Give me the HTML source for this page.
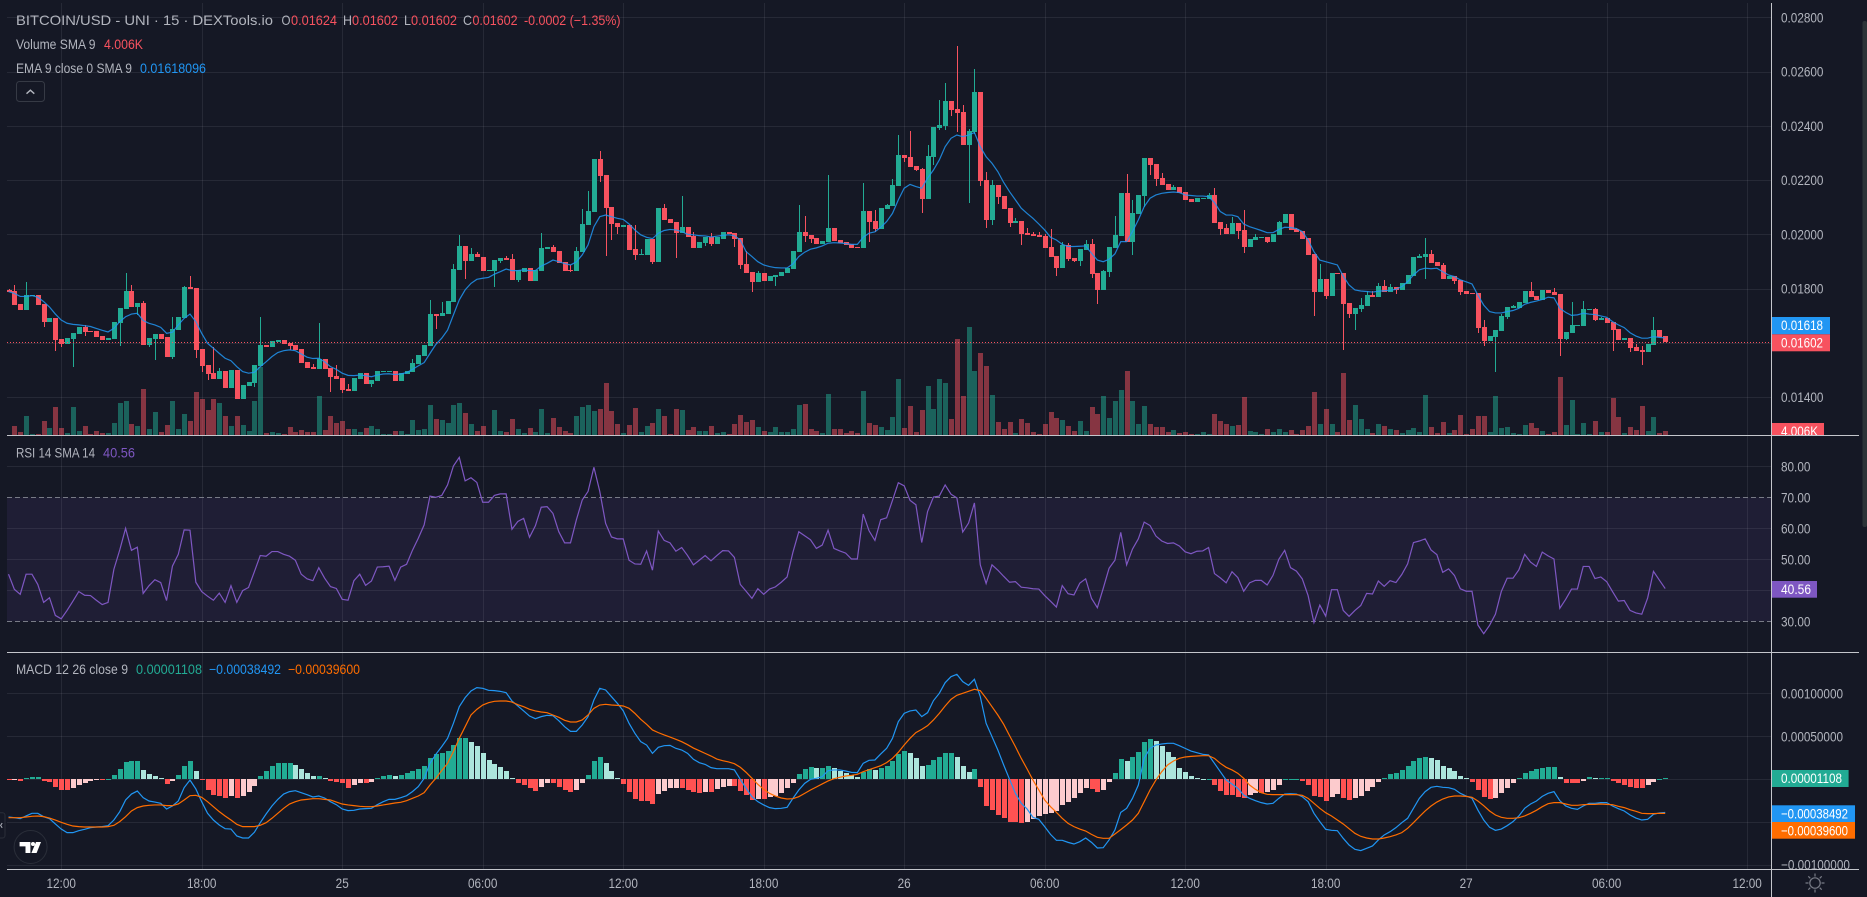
<!DOCTYPE html>
<html lang="en">
<head>
<meta charset="utf-8">
<title>BITCOIN/USD - UNI 15 chart</title>
<style>
html,body{margin:0;padding:0;background:#151825;width:1867px;height:897px;overflow:hidden}
svg{display:block}
text{font-family:"Liberation Sans",sans-serif;font-size:14px}
.t{fill:#b2b5be}
.r{fill:#f7525f}
</style>
</head>
<body>
<svg id="chart" xmlns="http://www.w3.org/2000/svg" width="1867" height="897" viewBox="0 0 1867 897">
  <defs>
    <clipPath id="volumeLabelClip"><rect x="1771" y="415" width="88" height="20.5"/></clipPath>
    <clipPath id="macdAxisClip"><rect x="1772" y="653" width="88" height="216"/></clipPath>
  </defs>
  <rect x="0" y="0" width="1867" height="897" fill="#151825"/>
  <rect x="7" y="497.3" width="1764" height="124" fill="#7e57c2" fill-opacity="0.1"/>
  <g id="grid"></g>
  <g id="rsiLevels">
    <line x1="7" x2="1771" y1="497.5" y2="497.5" stroke="#787b86" stroke-dasharray="5 3"/>
    <line x1="7" x2="1771" y1="621.5" y2="621.5" stroke="#787b86" stroke-dasharray="5 3"/>
  </g>
  <g id="volumes" shape-rendering="crispEdges"></g>
  <g id="candles" shape-rendering="crispEdges"></g>
  <path id="emaLine" fill="none" stroke="#2196f3" stroke-opacity="0.85" stroke-width="1.2"/>
  <line x1="7" x2="1771" y1="342.5" y2="342.5" stroke="#f7525f" stroke-dasharray="1 2"/>
  <path id="rsiLine" fill="none" stroke="#7e57c2" stroke-width="1.2"/>
  <g id="histogram" shape-rendering="crispEdges"></g>
  <path id="macdLine" fill="none" stroke="#2196f3" stroke-width="1.2"/>
  <path id="signalLine" fill="none" stroke="#ff6d00" stroke-width="1.2"/>
  <g id="axisLabels"></g>

  <g>
    <text class="t" x="16" y="25" textLength="257" lengthAdjust="spacingAndGlyphs">BITCOIN/USD - UNI · 15 · DEXTools.io</text>
    <text class="t" x="281.5" y="25" textLength="9" lengthAdjust="spacingAndGlyphs">O</text>
    <text class="r" x="291" y="25" textLength="46" lengthAdjust="spacingAndGlyphs">0.01624</text>
    <text class="t" x="343" y="25" textLength="9" lengthAdjust="spacingAndGlyphs">H</text>
    <text class="r" x="352" y="25" textLength="46" lengthAdjust="spacingAndGlyphs">0.01602</text>
    <text class="t" x="404" y="25" textLength="7" lengthAdjust="spacingAndGlyphs">L</text>
    <text class="r" x="411" y="25" textLength="46" lengthAdjust="spacingAndGlyphs">0.01602</text>
    <text class="t" x="463" y="25" textLength="9" lengthAdjust="spacingAndGlyphs">C</text>
    <text class="r" x="472.5" y="25" textLength="45" lengthAdjust="spacingAndGlyphs">0.01602</text>
    <text class="r" x="524" y="25" textLength="96.5" lengthAdjust="spacingAndGlyphs">-0.0002 (−1.35%)</text>
  </g>
  <g>
    <text class="t" x="16" y="49" textLength="79.5" lengthAdjust="spacingAndGlyphs">Volume SMA 9</text>
    <text class="r" x="104" y="49" textLength="39" lengthAdjust="spacingAndGlyphs">4.006K</text>
  </g>
  <g>
    <text class="t" x="16" y="73" textLength="116" lengthAdjust="spacingAndGlyphs">EMA 9 close 0 SMA 9</text>
    <text fill="#2196f3" x="140" y="73" textLength="66" lengthAdjust="spacingAndGlyphs">0.01618096</text>
  </g>
  <g>
    <rect x="16.5" y="81.5" width="28" height="20" rx="3" fill="#151825" stroke="#363a45"/>
    <polyline points="26.5,93.7 30.4,90.2 34.3,93.7" fill="none" stroke="#b2b5be" stroke-width="1.4"/>
  </g>
  <g>
    <text class="t" x="16" y="457.5" textLength="79" lengthAdjust="spacingAndGlyphs">RSI 14 SMA 14</text>
    <text fill="#7e57c2" x="103" y="457.5" textLength="32" lengthAdjust="spacingAndGlyphs">40.56</text>
  </g>
  <g>
    <text class="t" x="16" y="674" textLength="112" lengthAdjust="spacingAndGlyphs">MACD 12 26 close 9</text>
    <text fill="#22ab94" x="136" y="674" textLength="66" lengthAdjust="spacingAndGlyphs">0.00001108</text>
    <text fill="#2196f3" x="209" y="674" textLength="72" lengthAdjust="spacingAndGlyphs">−0.00038492</text>
    <text fill="#ff6d00" x="288" y="674" textLength="72" lengthAdjust="spacingAndGlyphs">−0.00039600</text>
  </g>

  <g>
    <circle cx="30.6" cy="847" r="16.5" fill="#151825" stroke="#2a2e39"/>
    <path fill="#ffffff" d="M19.6 842h10.8v11h-4.9v-6.6h-5.9z"/>
    <circle cx="33" cy="844" r="2" fill="#ffffff"/>
    <path fill="#ffffff" d="M36 842h5l-4.4 11h-5.2z"/>
  </g>
  <g>
    <path d="M0 812.7h2.5a2.5 2.5 0 0 1 2.5 2.5v20.3a2.5 2.5 0 0 1-2.5 2.5H0" fill="#151825" stroke="#2a2e39"/>
    <path d="M2.2 823l-1.6 2.4 1.6 2.4" fill="none" stroke="#b2b5be"/>
  </g>

  <g>
    <rect x="1771" y="317" width="59" height="17.3" fill="#2196f3"/>
    <text x="1781" y="330" fill="#fff" textLength="42" lengthAdjust="spacingAndGlyphs">0.01618</text>
    <rect x="1771" y="334.3" width="59" height="17" fill="#f7525f"/>
    <text x="1781" y="347.5" fill="#fff" textLength="42" lengthAdjust="spacingAndGlyphs">0.01602</text>
    <g clip-path="url(#volumeLabelClip)">
      <rect x="1771" y="423" width="53" height="14" fill="#f7525f"/>
      <text x="1781" y="436" fill="#fff" textLength="37" lengthAdjust="spacingAndGlyphs">4.006K</text>
    </g>
    <rect x="1771" y="581" width="46" height="16.7" fill="#7e57c2"/>
    <text x="1781" y="594" fill="#fff" textLength="30" lengthAdjust="spacingAndGlyphs">40.56</text>
    <rect x="1771" y="770" width="77.6" height="17" fill="#22ab94"/>
    <text x="1781" y="783" fill="#fff" textLength="61" lengthAdjust="spacingAndGlyphs">0.00001108</text>
    <rect x="1771" y="805.3" width="84" height="16.7" fill="#2196f3"/>
    <text x="1781" y="818.5" fill="#fff" textLength="67" lengthAdjust="spacingAndGlyphs">−0.00038492</text>
    <rect x="1771" y="822" width="84" height="16.7" fill="#ff6d00"/>
    <text x="1781" y="835.5" fill="#fff" textLength="67" lengthAdjust="spacingAndGlyphs">−0.00039600</text>
  </g>

  <g stroke="#c4c6cc" stroke-width="1" shape-rendering="crispEdges">
    <line x1="7" x2="1859" y1="435.5" y2="435.5"/>
    <line x1="7" x2="1859" y1="652.5" y2="652.5"/>
    <line x1="7" x2="1859" y1="869.5" y2="869.5"/>
    <line x1="1771.5" x2="1771.5" y1="3" y2="897"/>
  </g>
  <g fill="none" stroke="#787b86" stroke-width="1.2">
    <circle cx="1815" cy="883" r="5.2"/>
    <path d="M1815 873.5v3M1815 889.5v3M1805.5 883h3M1821.5 883h3M1808.3 876.3l2 2M1819.7 887.7l2 2M1808.3 889.7l2-2M1819.7 878.3l2-2"/>
  </g>
  <rect x="1862.5" y="21" width="4.5" height="506" rx="2" fill="#2c3338"/>
</svg>

<script>
// Bar index of the first visible candle; bar 0 is the 12:00 session tick.
const firstBar = -9;

// Prices are in units of 0.00001.
const opens = [
1795,1791,1743,1721,1773,1776,1743,1677,1692,1614,
1596,1614,1633,1658,1644,1644,1625,1610,1614,1673,
1725,1791,1732,1747,1592,1614,1633,1621,1548,1647,
1692,1806,1802,1577,1518,1489,1467,1496,1433,1500,
1393,1441,1451,1515,1592,1585,1603,1610,1599,1592,
1577,1529,1511,1503,1540,1507,1478,1470,1430,1422,
1467,1489,1448,1459,1492,1492,1496,1459,1485,1492,
1522,1551,1588,1706,1699,1706,1750,1869,1957,1902,
1928,1916,1865,1865,1902,1913,1909,1832,1861,1876,
1828,1865,1946,1953,1939,1898,1869,1865,1935,2034,
2082,2278,2219,2101,2042,2027,2034,1946,1924,1924,
1983,1898,2097,2057,2046,2005,2027,1994,1950,1968,
1990,1964,1983,2009,2005,1987,1891,1861,1824,1857,
1828,1843,1845,1857,1872,1935,2009,1998,1987,1964,
1972,2023,1979,1972,1964,1953,1950,2086,2049,2020,
2093,2104,2178,2292,2285,2252,2241,2130,2285,2392,
2399,2492,2462,2451,2329,2377,2525,2200,2053,2182,
2141,2097,2042,2049,2005,2001,1998,1994,1953,1920,
1876,1961,1913,1902,1942,1964,1857,1795,1861,1950,
1994,2152,1972,2075,2141,2281,2259,2208,2186,2163,
2175,2156,2130,2119,2130,2130,2145,2046,2023,2001,
2042,2016,1953,1979,1987,1990,1972,1998,2042,2075,
2020,2012,1987,1928,1787,1835,1773,1857,1857,1747,
1706,1725,1736,1776,1769,1809,1787,1806,1795,1817,
1846,1913,1916,1928,1898,1887,1835,1846,1832,1791,
1784,1784,1658,1607,1621,1644,1695,1728,1728,1747,
1791,1773,1758,1795,1787,1780,1614,1636,1663,1662,
1721,1725,1684,1692,1677,1651,1610,1618,1585,1574,
1566,1592,1647,1624];

const highs = [
1797,1812,1743,1823,1776,1776,1743,1693,1692,1614,
1618,1635,1658,1666,1644,1644,1625,1618,1677,1728,
1856,1812,1747,1754,1618,1633,1633,1621,1695,1695,
1809,1846,1802,1577,1518,1583,1507,1496,1500,1500,
1445,1456,1518,1695,1592,1607,1610,1610,1599,1592,
1577,1529,1522,1673,1540,1507,1518,1470,1448,1470,
1489,1489,1463,1496,1496,1496,1496,1489,1496,1540,
1555,1592,1758,1706,1750,1754,1891,1998,1957,1950,
1935,1916,1869,1905,1913,1920,1928,1869,1876,1876,
1869,2005,1953,1961,1939,1898,1887,1953,2093,2160,
2278,2307,2219,2101,2042,2034,2034,2034,1946,1983,
1983,2097,2112,2057,2046,2141,2027,2009,1972,1990,
2005,1990,2009,2009,2005,1987,1939,1861,1865,1857,
1846,1850,1861,1876,1939,2108,2068,1998,1987,1975,
2219,2023,1979,1972,1964,1953,2189,2086,2090,2097,
2112,2204,2366,2292,2381,2252,2245,2329,2396,2495,
2558,2492,2694,2477,2388,2610,2525,2230,2200,2182,
2141,2097,2060,2049,2023,2009,2009,2001,2020,1920,
1972,1968,1913,1946,1979,1983,1857,1869,1953,2068,
2152,2222,2127,2145,2281,2281,2259,2226,2186,2182,
2175,2156,2130,2134,2134,2152,2171,2046,2038,2064,
2042,2090,1983,2001,1990,1990,2001,2049,2075,2075,
2023,2012,1987,1928,1891,1835,1857,1857,1857,1747,
1728,1765,1791,1791,1821,1832,1817,1806,1821,1850,
1916,1928,1987,1942,1898,1894,1846,1846,1832,1791,
1784,1784,1684,1625,1647,1706,1732,1739,1750,1791,
1824,1773,1795,1795,1802,1780,1640,1750,1666,1754,
1725,1728,1695,1692,1677,1651,1618,1618,1596,1588,
1596,1695,1647,1625];

const lows = [
1787,1739,1721,1721,1773,1739,1657,1677,1571,1583,
1596,1512,1633,1625,1640,1621,1610,1610,1614,1588,
1725,1732,1703,1592,1586,1537,1614,1548,1542,1647,
1692,1798,1543,1494,1463,1467,1467,1433,1433,1393,
1393,1441,1438,1515,1585,1585,1603,1596,1574,1574,
1526,1507,1503,1503,1503,1420,1467,1414,1424,1422,
1467,1448,1438,1459,1492,1492,1459,1459,1485,1492,
1522,1551,1588,1651,1699,1706,1750,1869,1835,1902,
1916,1865,1865,1806,1894,1905,1832,1824,1861,1828,
1828,1865,1946,1935,1894,1865,1861,1865,1935,2034,
2082,2193,1920,1979,2001,2027,1942,1905,1924,1924,
1891,1898,2053,2042,1913,2005,1990,1950,1950,1957,
1957,1964,1983,2001,1953,1872,1857,1787,1824,1828,
1828,1809,1845,1857,1872,1935,1972,1968,1964,1964,
1972,1975,1968,1961,1950,1950,1950,1972,2009,2020,
2093,2104,2178,2267,2248,2234,2079,2130,2256,2385,
2385,2436,2377,2329,2116,2370,2178,2023,2034,2112,
2093,2027,2042,1961,1998,1994,1990,1950,1916,1846,
1876,1902,1898,1883,1942,1839,1743,1795,1843,1950,
1994,1972,1924,2075,2101,2219,2178,2182,2163,2163,
2152,2127,2119,2119,2130,2130,2042,1998,2001,2001,
1983,1931,1953,1979,1987,1968,1972,1998,2042,2016,
2009,1983,1924,1699,1787,1762,1773,1854,1574,1692,
1647,1714,1736,1769,1769,1787,1787,1780,1795,1817,
1846,1913,1835,1894,1883,1835,1835,1817,1776,1780,
1780,1636,1588,1607,1492,1644,1688,1728,1728,1747,
1769,1758,1758,1784,1776,1551,1610,1636,1663,1662,
1721,1680,1684,1673,1570,1610,1610,1566,1570,1518,
1566,1592,1621,1602];

const closes = [
1787,1739,1721,1776,1776,1739,1677,1693,1610,1596,
1618,1635,1658,1640,1640,1621,1610,1618,1677,1728,
1791,1732,1747,1592,1618,1633,1614,1548,1651,1695,
1806,1798,1574,1515,1485,1467,1496,1433,1500,1393,
1445,1456,1518,1592,1585,1607,1610,1596,1588,1574,
1526,1507,1503,1540,1503,1473,1467,1426,1424,1470,
1489,1448,1463,1496,1496,1496,1459,1489,1496,1526,
1555,1592,1706,1700,1710,1754,1872,1957,1902,1928,
1916,1865,1869,1905,1913,1905,1832,1869,1876,1828,
1869,1950,1953,1935,1894,1865,1865,1939,2038,2086,
2278,2215,2097,2038,2027,2034,1942,1924,1928,1983,
1898,2097,2053,2042,2005,2027,1990,1950,1972,1990,
1964,1990,2009,2001,1983,1887,1857,1824,1857,1828,
1846,1850,1861,1876,1939,2009,1994,1983,1964,1975,
2023,1975,1968,1961,1950,1950,2086,2046,2020,2097,
2108,2182,2292,2281,2248,2237,2130,2289,2396,2403,
2492,2458,2447,2329,2381,2525,2197,2053,2182,2138,
2093,2042,2049,2001,1998,1994,1990,1950,1916,1876,
1961,1909,1902,1946,1964,1854,1795,1865,1953,1998,
2152,1972,2079,2145,2281,2256,2204,2182,2163,2175,
2152,2127,2119,2134,2134,2145,2042,2020,2001,2042,
2012,1953,1983,1990,1990,1972,2001,2046,2075,2016,
2009,1983,1924,1787,1835,1773,1857,1854,1743,1706,
1728,1739,1776,1769,1809,1787,1806,1795,1821,1850,
1916,1920,1928,1894,1883,1835,1846,1828,1787,1780,
1780,1655,1607,1625,1647,1699,1732,1736,1750,1791,
1769,1758,1795,1784,1776,1614,1640,1666,1666,1725,
1725,1684,1692,1673,1647,1610,1618,1581,1570,1566,
1596,1647,1621,1602];

// Volume in thousands.
const volumes = [
0.7,9.3,3.3,19.3,1,1,14.3,7.3,28.3,7.3,
2.3,28.3,4.3,9.3,1,4.3,2.3,2.3,12.3,32.3,
34.3,11.3,9.3,46.3,6.3,23.3,3.3,10.3,34.3,6.3,
21.3,14.3,43.3,36.3,25.3,36.3,32.3,19.3,9.3,19.3,
10.3,4.3,34.3,68.7,2,3.3,2.3,1,8.3,3.3,
5.3,3.3,3.3,39.3,5.3,19.3,12.3,14.3,6.3,6.3,
3.3,7.3,9.3,6.3,1,1,4.3,4.3,1,15.3,
5.3,6.3,30.3,16.3,15.3,12.3,30.3,32.3,22.3,11.3,
4.3,9.3,0,25.3,4.3,3.3,16.3,6.3,2.3,7.3,
3.3,26.3,2.3,17.3,8.3,4.3,2.3,19.3,28.3,30.3,
24.3,26.3,52.3,24.3,11.3,2.3,10.3,27.3,3.3,9.3,
12.3,26.3,19.3,1,26.3,25.3,5.3,8.3,4.3,4.3,
9.3,2.3,3.3,1,11.3,20.3,13.3,15.3,8.3,4.3,
3.3,8.3,3.3,3.3,6.3,30.3,31.3,6.3,4.3,2.3,
41.3,6.3,6.3,2.3,4.3,2.3,44.3,12.3,10.3,8.3,
5.3,18.3,56.3,7.3,29.3,3.3,25.3,49.3,26.3,56.3,
52.3,16.3,96.3,39.3,108.3,64.3,82.3,69.3,40.3,13.3,
6.3,13.3,2.3,16.3,12.3,3.3,1.3,11.3,23.3,17.3,
15.3,9.3,4.3,14.3,4.3,28.3,21.3,39.3,17.3,34.3,
45.3,64.3,34.3,11.3,29.3,11.3,8.3,8.3,3.3,5.3,
2.3,3.3,1,1.3,3.3,1.3,21.3,14.3,11.3,9.3,
10.3,38.3,4.3,3.3,1,6.3,3.3,6.3,3.3,5.3,
1,5.3,9.3,43.3,11.3,26.3,11.3,3.3,62.3,15.3,
30.3,16.3,6.3,2.3,11.3,9.3,6.3,5.3,2.3,5.3,
7.3,3.3,40.3,8.3,2.3,13.3,2.3,5.3,20.3,1.3,
6.3,19.3,19.3,3.3,39.3,7.3,8.3,2.3,1.3,10.3,
12.3,7.3,4.3,1.3,3.3,58.3,10.3,35.3,1.3,12.3,
1.3,14.3,3.3,3.3,37.3,18.3,2.3,8.3,5.3,29.3,
4.3,18.3,2.3,4.006];

const emaValues = [
1789,1782,1771,1771,1774,1768,1752,1732,1706,1684,
1672,1668,1666,1663,1660,1653,1646,1640,1653,1678,
1696,1706,1709,1682,1672,1666,1657,1635,1639,1666,
1690,1706,1678,1635,1598,1580,1561,1543,1534,1512,
1494,1488,1491,1512,1530,1549,1564,1571,1574,1571,
1559,1547,1542,1543,1530,1512,1502,1488,1480,1479,
1481,1479,1475,1481,1485,1486,1483,1485,1490,1502,
1515,1527,1561,1594,1617,1647,1703,1758,1795,1819,
1834,1838,1841,1853,1862,1872,1866,1866,1869,1866,
1866,1883,1893,1905,1899,1892,1887,1898,1924,1961,
2028,2065,2071,2065,2059,2055,2038,2016,1998,1989,
1984,2004,2014,2018,2016,2010,2000,1998,1995,1994,
1990,1993,1996,1998,1995,1979,1936,1918,1899,1887,
1881,1877,1876,1876,1891,1918,1934,1945,1950,1957,
1967,1969,1968,1966,1963,1963,1989,2004,2009,2026,
2047,2077,2127,2170,2184,2176,2170,2207,2237,2274,
2323,2354,2366,2360,2366,2375,2323,2286,2262,2231,
2191,2157,2127,2096,2077,2059,2038,2016,1989,1979,
1963,1955,1955,1956,1957,1930,1905,1899,1908,1928,
1973,1973,2010,2053,2102,2133,2145,2151,2154,2156,
2154,2145,2143,2141,2141,2139,2117,2084,2071,2071,
2065,2038,2028,2021,2014,2006,2006,2018,2026,2025,
2021,2010,1979,1936,1905,1899,1893,1887,1846,1813,
1795,1791,1789,1787,1790,1792,1794,1797,1807,1825,
1850,1869,1875,1873,1875,1862,1850,1844,1832,1825,
1817,1776,1739,1715,1710,1710,1715,1719,1727,1742,
1749,1754,1760,1768,1766,1727,1712,1701,1703,1709,
1706,1704,1699,1694,1678,1666,1656,1637,1625,1617,
1617,1623,1620,1618];

const rsiValues = [
45.2,40.3,38.7,45.2,45.2,41.9,36.1,37.6,31.9,30.8,
33.5,36.5,39.6,38.4,38.3,36.8,35.4,36.1,46.8,53.0,
60.0,52.9,53.9,39.0,41.5,43.4,42.5,36.7,47.8,51.6,
59.5,59.4,42.6,39.6,38.1,36.8,39.1,36.1,41.5,36.1,
39.9,40.9,46.0,51.2,51.0,52.5,52.5,51.6,51.0,49.7,
45.2,43.7,43.1,47.3,43.9,41.2,40.6,37.1,36.8,43.1,
45.2,41.6,43.0,47.5,47.6,47.8,43.2,47.5,48.4,52.9,
56.8,61.1,70.4,70.0,70.6,74.0,80.1,82.9,75.3,76.3,
74.8,68.4,68.4,70.6,71.1,71.1,59.7,62.2,63.2,57.1,
60.8,66.8,67.0,64.8,58.9,55.3,55.3,62.7,69.1,71.9,
79.7,71.9,61.6,57.2,56.6,56.6,49.7,48.5,48.4,52.7,
46.5,59.1,56.1,55.3,52.6,53.8,51.2,48.2,49.7,51.2,
49.5,51.2,52.8,52.7,50.6,41.9,39.7,37.4,40.5,38.7,
40.4,41.1,42.6,44.3,52.3,58.9,57.6,56.3,53.5,54.6,
59.4,53.5,52.7,52.0,50.1,50.1,64.6,59.2,56.1,62.8,
63.4,69.0,74.7,73.7,69.0,67.6,55.4,65.4,70.1,70.4,
74.0,71.0,69.8,58.8,61.7,68.2,48.2,42.2,48.2,46.5,
44.5,42.6,42.8,41.0,40.8,40.5,40.4,38.3,36.5,34.6,
41.5,38.9,38.5,42.3,43.7,37.4,34.4,40.6,47.1,49.7,
58.7,48.2,53.3,56.6,62.0,60.9,57.5,55.9,55.1,55.3,
54.3,52.4,51.8,52.6,52.7,53.8,45.4,44.0,42.4,46.0,
44.1,39.7,42.4,43.2,43.2,41.7,44.8,50.0,52.9,47.3,
46.2,43.7,38.3,29.6,35.2,31.7,40.2,40.2,33.5,31.6,
33.5,35.1,39.0,38.8,43.0,41.3,43.1,42.5,45.1,48.5,
55.4,55.9,56.6,53.0,51.5,45.8,46.9,44.8,40.5,39.7,
39.7,28.8,26.0,28.7,32.3,39.6,43.9,43.9,46.6,51.6,
49.1,47.7,52.3,51.1,50.1,34.2,37.1,40.4,40.4,47.7,
47.7,43.8,44.3,42.8,39.6,36.5,36.7,33.5,32.7,32.3,
37.5,46.1,43.3,40.56];

// MACD values are in units of 0.00001.
const macdValues = [
-43.8,-44.6,-45.7,-42.6,-39.5,-39.5,-43.4,-45.7,-51.9,-57.8,
-62.0,-62.0,-59.7,-58.1,-56.2,-55.4,-55.0,-53.9,-47.3,-37.6,
-24.0,-17.1,-13.6,-21.3,-25.2,-26.4,-27.9,-34.5,-31.0,-25.2,
-9.7,-0.8,-11.2,-26.0,-39.5,-47.3,-53.1,-57.4,-57.8,-65.9,
-68.2,-68.2,-61.6,-50.4,-40.3,-31.0,-23.3,-17.1,-14.3,-13.2,
-15.5,-17.8,-20.5,-19.4,-21.7,-26.0,-29.5,-34.5,-36.4,-36.0,
-34.5,-34.1,-33.7,-29.5,-26.0,-23.3,-23.3,-21.3,-19.0,-14.3,
-8.5,1.2,18.6,29.1,38.0,47.7,65.1,84.5,95.0,102.7,
106.6,105.8,103.5,103.1,102.3,100.8,91.1,85.3,79.5,73.6,
70.5,72.9,74.4,74.0,68.2,61.2,55.8,55.8,63.2,72.9,
92.2,105.8,103.9,96.1,88.4,79.8,65.1,53.5,43.8,39.9,
30.2,37.2,39.1,39.5,36.0,34.1,30.2,23.3,19.4,17.4,
13.6,12.4,12.4,12.4,10.9,0,-10.5,-20.2,-26.0,-29.8,
-32.9,-34.1,-33.7,-32.6,-22.1,-12.4,-4.7,0,1.2,3.1,
10.1,10.9,10.9,9.7,8.1,7.8,18.6,22.1,22.5,29.5,
36.0,47.7,67.1,76.7,79.5,80.6,72.9,77.5,91.5,100.0,
112.4,119.4,122.1,113.6,109.3,116.3,96.1,65.1,49.6,34.1,
16.7,0,-16.3,-27.9,-34.5,-44.2,-46.5,-55.0,-64.0,-70.9,
-70.9,-73.3,-75.2,-72.5,-68.2,-73.3,-79.8,-79.5,-70.5,-58.9,
-38.4,-33.7,-22.1,-6.6,24.4,36.0,39.9,41.1,41.9,41.9,
39.1,36.0,32.9,31.0,29.1,28.3,18.6,8.9,-0.8,-5.4,
-10.5,-18.2,-22.1,-24.8,-27.1,-28.7,-27.9,-22.1,-17.1,-16.7,
-17.1,-20.2,-26.0,-39.5,-49.2,-58.1,-59.3,-59.7,-68.6,-76.4,
-81.4,-82.9,-80.2,-77.5,-70.5,-64.7,-60.9,-56.2,-50.4,-45.3,
-33.7,-22.1,-14.3,-9.3,-8.1,-9.3,-9.7,-11.6,-16.3,-19.4,
-22.1,-35.7,-47.3,-55.8,-59.3,-57.8,-53.9,-49.2,-42.6,-33.7,
-28.7,-25.2,-19.8,-16.3,-14.3,-24.8,-31.0,-33.7,-34.9,-31.0,
-27.9,-27.9,-27.1,-27.1,-31.0,-34.1,-36.8,-41.5,-45.0,-47.3,
-46.5,-40.7,-39.1,-38.492];

const signalValues = [
-44.6,-44.6,-44.6,-43.8,-43.0,-42.6,-43.4,-45.0,-47.3,-50.0,
-52.3,-54.3,-55.0,-55.4,-55.4,-55.4,-55.4,-55.0,-53.5,-49.2,
-43.4,-36.8,-32.9,-31.0,-30.2,-29.8,-29.8,-30.6,-30.6,-28.7,
-24.0,-19.0,-18.6,-20.9,-26.0,-31.8,-37.6,-42.6,-47.3,-52.3,
-55.0,-55.0,-55.0,-53.5,-50.4,-45.3,-39.5,-33.7,-28.7,-26.0,
-24.0,-23.3,-22.5,-22.5,-23.3,-24.0,-26.4,-28.7,-29.8,-30.6,
-31.4,-31.8,-31.8,-31.0,-29.8,-28.7,-27.5,-26.7,-24.8,-22.1,
-19.4,-15.5,-6.6,1.2,10.1,18.6,32.2,47.7,61.2,74.8,
81.4,86.4,89.1,90.7,91.1,91.1,89.9,86.8,84.5,81.4,
79.5,78.3,77.5,74.8,72.1,68.6,66.7,66.7,69.0,74.8,
82.6,86.4,87.2,86.4,86.0,85.3,82.6,76.7,69.8,64.0,
57.4,54.3,51.6,49.2,46.5,43.8,40.3,36.4,33.3,30.2,
27.1,23.6,21.7,20.2,18.2,14.0,8.1,1.2,-5.8,-11.6,
-16.3,-19.4,-21.7,-22.9,-22.5,-20.2,-16.3,-12.4,-8.9,-5.4,
-1.9,0.8,2.3,3.9,4.7,5.8,8.9,11.2,13.6,15.9,
19.4,24.4,31.4,39.9,47.7,54.3,58.1,62.4,69.0,76.7,
85.3,93.0,97.7,100.0,102.3,104.7,103.1,94.2,84.5,74.8,
64.0,50.8,38.0,24.4,12.0,-0.8,-12.4,-24.0,-31.8,-38.4,
-45.3,-51.2,-55.0,-57.8,-60.1,-64.0,-67.4,-68.6,-68.6,-63.6,
-58.5,-53.1,-47.3,-39.5,-26.0,-12.4,-0.8,8.9,16.7,21.3,
24.4,26.0,26.7,27.1,27.5,27.5,24.4,18.6,14.0,10.9,
7.0,1.2,-6.6,-11.6,-15.5,-17.4,-17.8,-17.8,-17.8,-17.8,
-17.8,-18.6,-22.1,-27.9,-33.7,-38.8,-42.6,-47.3,-51.9,-57.4,
-62.8,-66.3,-68.2,-69.4,-69.4,-68.2,-66.7,-64.7,-62.0,-57.0,
-50.4,-43.4,-36.8,-31.0,-26.4,-22.9,-20.5,-19.4,-19.4,-19.8,
-20.9,-25.2,-30.6,-36.8,-41.5,-44.2,-45.3,-45.3,-44.6,-42.6,
-39.5,-36.0,-31.8,-28.3,-27.1,-27.1,-28.7,-30.2,-30.2,-29.5,
-29.1,-29.1,-28.7,-29.1,-29.5,-31.4,-32.9,-35.3,-37.2,-39.5,
-39.9,-39.9,-39.5,-39.6];

const histogramValues = [
-0.8,-0.4,-1.6,1.2,3.1,3.1,-1.9,-3.1,-9.3,-12.4,
-12.4,-10.5,-6.6,-4.7,-1.9,-0.8,-0.8,0.4,5.0,11.6,
20.2,21.3,21.3,10.9,6.2,3.9,1.6,-5.4,-1.9,4.7,
15.5,21.3,10.1,-0.8,-12.4,-18.2,-19.4,-21.3,-19.4,-21.3,
-19.4,-14.7,-7.8,4.3,10.1,15.9,18.6,19.0,19.0,16.3,
12.0,7.8,3.9,4.3,1.6,-1.9,-2.7,-4.7,-9.7,-6.6,
-3.9,-3.9,-3.1,1.6,4.3,5.0,3.9,5.4,7.0,9.3,
12.0,15.5,24.4,29.5,31.0,33.3,39.9,47.7,47.7,43.8,
38.8,31.0,22.5,17.8,14.7,9.7,1.6,-3.9,-6.6,-10.5,
-13.2,-8.5,-4.7,-4.7,-9.3,-12.4,-14.7,-12.4,-3.9,4.7,
21.3,25.6,19.4,9.7,1.6,-5.4,-14.3,-22.9,-25.2,-25.2,
-28.7,-17.1,-13.6,-10.5,-9.7,-10.5,-12.4,-14.7,-15.5,-14.3,
-14.3,-11.6,-9.3,-7.8,-7.8,-13.6,-18.2,-24.0,-23.3,-23.3,
-20.9,-19.0,-15.5,-10.5,-3.9,6.2,12.0,14.3,13.2,13.2,
15.5,13.2,10.1,7.8,5.4,3.1,8.9,12.0,10.5,12.8,
15.5,21.3,29.5,32.9,30.2,24.8,15.5,16.7,22.5,26.0,
30.6,30.6,26.0,15.5,8.5,12.0,-8.9,-31.0,-35.7,-41.5,
-45.0,-49.6,-49.6,-50.8,-49.6,-46.1,-42.6,-40.3,-39.1,-36.8,
-29.8,-26.4,-21.7,-15.9,-10.1,-11.2,-14.7,-12.4,-3.1,7.4,
23.6,21.3,26.0,31.8,43.4,46.9,44.6,38.8,31.8,26.0,
13.2,8.5,3.9,1.6,0.4,0.4,-7.0,-13.6,-18.2,-18.2,
-20.2,-22.1,-18.2,-16.3,-16.3,-14.3,-12.4,-7.0,0.4,0.4,
0.4,-1.6,-6.6,-19.4,-20.9,-24.8,-20.2,-16.7,-22.1,-24.0,
-22.1,-19.4,-13.2,-8.5,-2.7,1.6,6.2,7.8,10.9,15.9,
21.3,24.8,26.0,24.8,22.5,15.9,13.2,9.3,3.9,1.6,
-2.7,-12.4,-20.2,-22.9,-21.3,-15.5,-9.7,-3.9,1.9,7.0,
9.3,11.6,13.2,14.0,14.0,2.7,-3.9,-4.7,-4.7,-1.6,
2.3,1.2,1.2,1.9,-1.6,-4.7,-7.0,-9.3,-9.7,-9.7,
-7.0,-3.1,0.4,1.108];

// Axis ticks
const priceTicks = [2800, 2600, 2400, 2200, 2000, 1800, 1600, 1400];
const priceTickLabels = ["0.02800", "0.02600", "0.02400", "0.02200", "0.02000", "0.01800", "", "0.01400"];
const rsiGridTicks = [80, 60, 50, 40];
const rsiTicks = [80, 70, 60, 50, 30];
const rsiTickLabels = ["80.00", "70.00", "60.00", "50.00", "30.00"];
const macdTicks = [100, 50, 0, -50, -100];
const macdTickLabels = ["0.00100000", "0.00050000", "", "", "−0.00100000"];
const timeTickBars = [0, 24, 48, 72, 96, 120, 144, 168, 192, 216, 240, 264, 288];
const timeTickLabels = ["12:00", "18:00", "25", "06:00", "12:00", "18:00", "26", "06:00", "12:00", "18:00", "27", "06:00", "12:00"];

const SVGNS = "http://www.w3.org/2000/svg";
function xBar(bar) { return 61.2 + 5.854 * bar; }
function yPrice(p) { return 17.3 + (2800 - p) * 0.27125; }
function yVolume(v) { return 435.3 - v; }
function yRsi(v) { return 466.3 + (80 - v) * 3.1; }
function yMacd(v) { return 779.33 - v * 0.86; }

function make(tag, attrs) {
  const el = document.createElementNS(SVGNS, tag);
  for (const k in attrs) el.setAttribute(k, attrs[k]);
  return el;
}
function linePath(values, yFn) {
  let d = "";
  values.forEach(function (v, i) {
    d += (i ? "L" : "M") + xBar(firstBar + i).toFixed(2) + " " + yFn(v).toFixed(2);
  });
  return d;
}
function pixelRect(x, top, bottom, width, fill) {
  const y0 = Math.round(Math.min(top, bottom));
  const h = Math.max(1, Math.round(Math.max(top, bottom)) - y0);
  return make("rect", { x: x, y: y0, width: width, height: h, fill: fill });
}

const UP = "#22ab94";
const DOWN = "#f7525f";

// Grid
const gridGroup = document.getElementById("grid");
function addGridLine(x1, y1, x2, y2, name) {
  const ln = make("line", { x1: x1, y1: y1, x2: x2, y2: y2, stroke: "#f0f3fa", "stroke-opacity": "0.08", "shape-rendering": "crispEdges" });
  
  
  gridGroup.appendChild(ln);
}
timeTickBars.forEach(function (bar) {
  const x = Math.round(xBar(bar)) + 0.5;
  addGridLine(x, 3, x, 869, 'vertical-grid-line');
});
priceTicks.forEach(function (p) {
  const y = Math.round(yPrice(p)) + 0.5;
  addGridLine(7, y, 1771, y, 'price-grid-line');
});
rsiGridTicks.forEach(function (v) {
  const y = Math.round(yRsi(v)) + 0.5;
  addGridLine(7, y, 1771, y, 'rsi-grid-line');
});
macdTicks.forEach(function (v) {
  const y = Math.round(yMacd(v)) + 0.5;
  addGridLine(7, y, 1771, y, 'macd-grid-line');
});

// Volume bars
const volumeGroup = document.getElementById("volumes");
volumes.forEach(function (v, i) {
  const bar = firstBar + i;
  const up = closes[i] >= opens[i];
  const rect = pixelRect(Math.round(xBar(bar)) - 2, yVolume(v), yVolume(0), 5, up ? UP : DOWN);
  rect.setAttribute("fill-opacity", "0.5");
  
  
  volumeGroup.appendChild(rect);
});

// Candles
const candleGroup = document.getElementById("candles");
opens.forEach(function (o, i) {
  const bar = firstBar + i;
  const c = closes[i];
  const color = c >= o ? UP : DOWN;
  const cx = Math.round(xBar(bar));
  const wick = pixelRect(cx, yPrice(highs[i]), yPrice(lows[i]), 1, color);
  
  
  candleGroup.appendChild(wick);
  const body = pixelRect(cx - 2, yPrice(Math.max(o, c)), yPrice(Math.min(o, c)), 5, color);
  
  
  candleGroup.appendChild(body);
});

document.getElementById("emaLine").setAttribute("d", linePath(emaValues, yPrice));
document.getElementById("rsiLine").setAttribute("d", linePath(rsiValues, yRsi));
document.getElementById("macdLine").setAttribute("d", linePath(macdValues, yMacd));
document.getElementById("signalLine").setAttribute("d", linePath(signalValues, yMacd));

// Histogram
const histGroup = document.getElementById("histogram");
histogramValues.forEach(function (h, i) {
  const prev = i ? histogramValues[i - 1] : h;
  let color;
  if (h >= 0) color = h >= prev ? "#22ab94" : "#ace5dc";
  else color = h <= prev ? "#ff5252" : "#fccbcd";
  const rect = pixelRect(Math.round(xBar(firstBar + i)) - 2, yMacd(h), yMacd(0), 5, color);
  
  
  histGroup.appendChild(rect);
});

// Axis labels
const axisGroup = document.getElementById("axisLabels");
function addLabel(x, y, str, anchor, name, clip) {
  if (!str) return;
  const t = make("text", {
    transform: "translate(" + x + " " + (y + 5) + ") scale(0.84 1)",
    fill: "#b2b5be",
    "text-anchor": anchor
  });
  t.textContent = str;
  
  
  if (clip) {
    const g = make("g", { "clip-path": "url(#" + clip + ")" });
    
    
    g.appendChild(t);
    axisGroup.appendChild(g);
  } else {
    axisGroup.appendChild(t);
  }
}
priceTicks.forEach(function (p, i) {
  addLabel(1781, yPrice(p), priceTickLabels[i], "start", 'price-tick-label');
});
rsiTicks.forEach(function (v, i) {
  addLabel(1781, yRsi(v), rsiTickLabels[i], "start", 'rsi-tick-label');
});
macdTicks.forEach(function (v, i) {
  addLabel(1781, yMacd(v) - (v === -100 ? 1 : 0), macdTickLabels[i], "start", 'macd-tick-label', "macdAxisClip");
});
timeTickBars.forEach(function (bar, i) {
  addLabel(xBar(bar), 883, timeTickLabels[i], "middle", 'time-tick-label');
});
</script>
</body>
</html>
